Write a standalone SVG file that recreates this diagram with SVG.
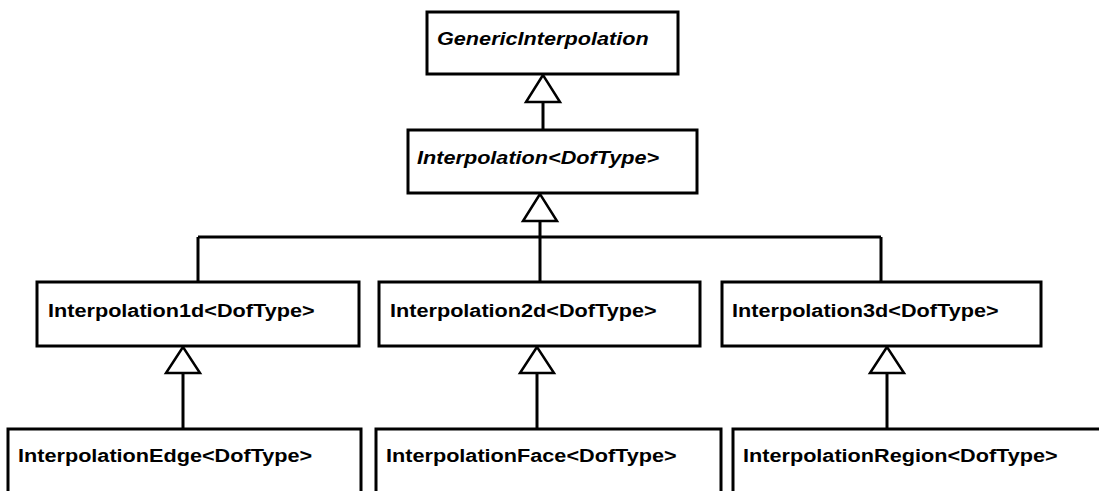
<svg xmlns="http://www.w3.org/2000/svg" width="1099" height="491" viewBox="0 0 1099 491">
<style>
.box{fill:#fff;stroke:#000;stroke-width:3}
.lbl{font-family:"Liberation Sans",Arial,sans-serif;font-weight:bold;font-size:19px;fill:#000}
.it{font-style:italic}
.conn{fill:none;stroke:#000;stroke-width:3}
.tri{fill:#fff;stroke:#000;stroke-width:2.5;stroke-linejoin:miter}
</style>
<rect width="1099" height="491" fill="#fff"/>
<g id="connectors">
<line class="conn" x1="543" y1="102" x2="543" y2="130"/>
<polygon class="tri" points="543,75 526,102 560,102"/>
<path class="conn" d="M540,221 V237 M198,237 H881 M198,237 V282 M540,237 V282 M881,237 V282"/>
<polygon class="tri" points="540,194 523,221 557,221"/>
<line class="conn" x1="183" y1="373" x2="183" y2="429"/>
<polygon class="tri" points="183,347 166,373 200,373"/>
<line class="conn" x1="537" y1="373" x2="537" y2="429"/>
<polygon class="tri" points="537,347 520,373 554,373"/>
<line class="conn" x1="887" y1="373" x2="887" y2="429"/>
<polygon class="tri" points="887,347 870,373 904,373"/>
</g>
<g id="GenericInterpolation">
<rect class="box" x="427" y="12" width="251" height="62"/>
<text class="lbl it" transform="translate(437 45) scale(1.14 1)">GenericInterpolation</text>
</g>
<g id="Interpolation">
<rect class="box" x="408" y="130" width="289" height="63"/>
<text class="lbl it" transform="translate(417 164) scale(1.14 1)">Interpolation&lt;DofType&gt;</text>
</g>
<g id="Interpolation1d">
<rect class="box" x="37" y="282" width="322" height="64"/>
<text class="lbl" transform="translate(48 317) scale(1.14 1)">Interpolation1d&lt;DofType&gt;</text>
</g>
<g id="Interpolation2d">
<rect class="box" x="379" y="282" width="321" height="64"/>
<text class="lbl" transform="translate(390 317) scale(1.14 1)">Interpolation2d&lt;DofType&gt;</text>
</g>
<g id="Interpolation3d">
<rect class="box" x="722" y="282" width="319" height="64"/>
<text class="lbl" transform="translate(732 317) scale(1.14 1)">Interpolation3d&lt;DofType&gt;</text>
</g>
<g id="InterpolationEdge">
<rect class="box" x="8" y="429" width="353" height="80"/>
<text class="lbl" transform="translate(18 462) scale(1.14 1)">InterpolationEdge&lt;DofType&gt;</text>
</g>
<g id="InterpolationFace">
<rect class="box" x="376" y="429" width="345" height="80"/>
<text class="lbl" transform="translate(386 462) scale(1.14 1)">InterpolationFace&lt;DofType&gt;</text>
</g>
<g id="InterpolationRegion">
<rect class="box" x="733" y="429" width="380" height="80"/>
<text class="lbl" transform="translate(743 462) scale(1.14 1)">InterpolationRegion&lt;DofType&gt;</text>
</g>
</svg>
